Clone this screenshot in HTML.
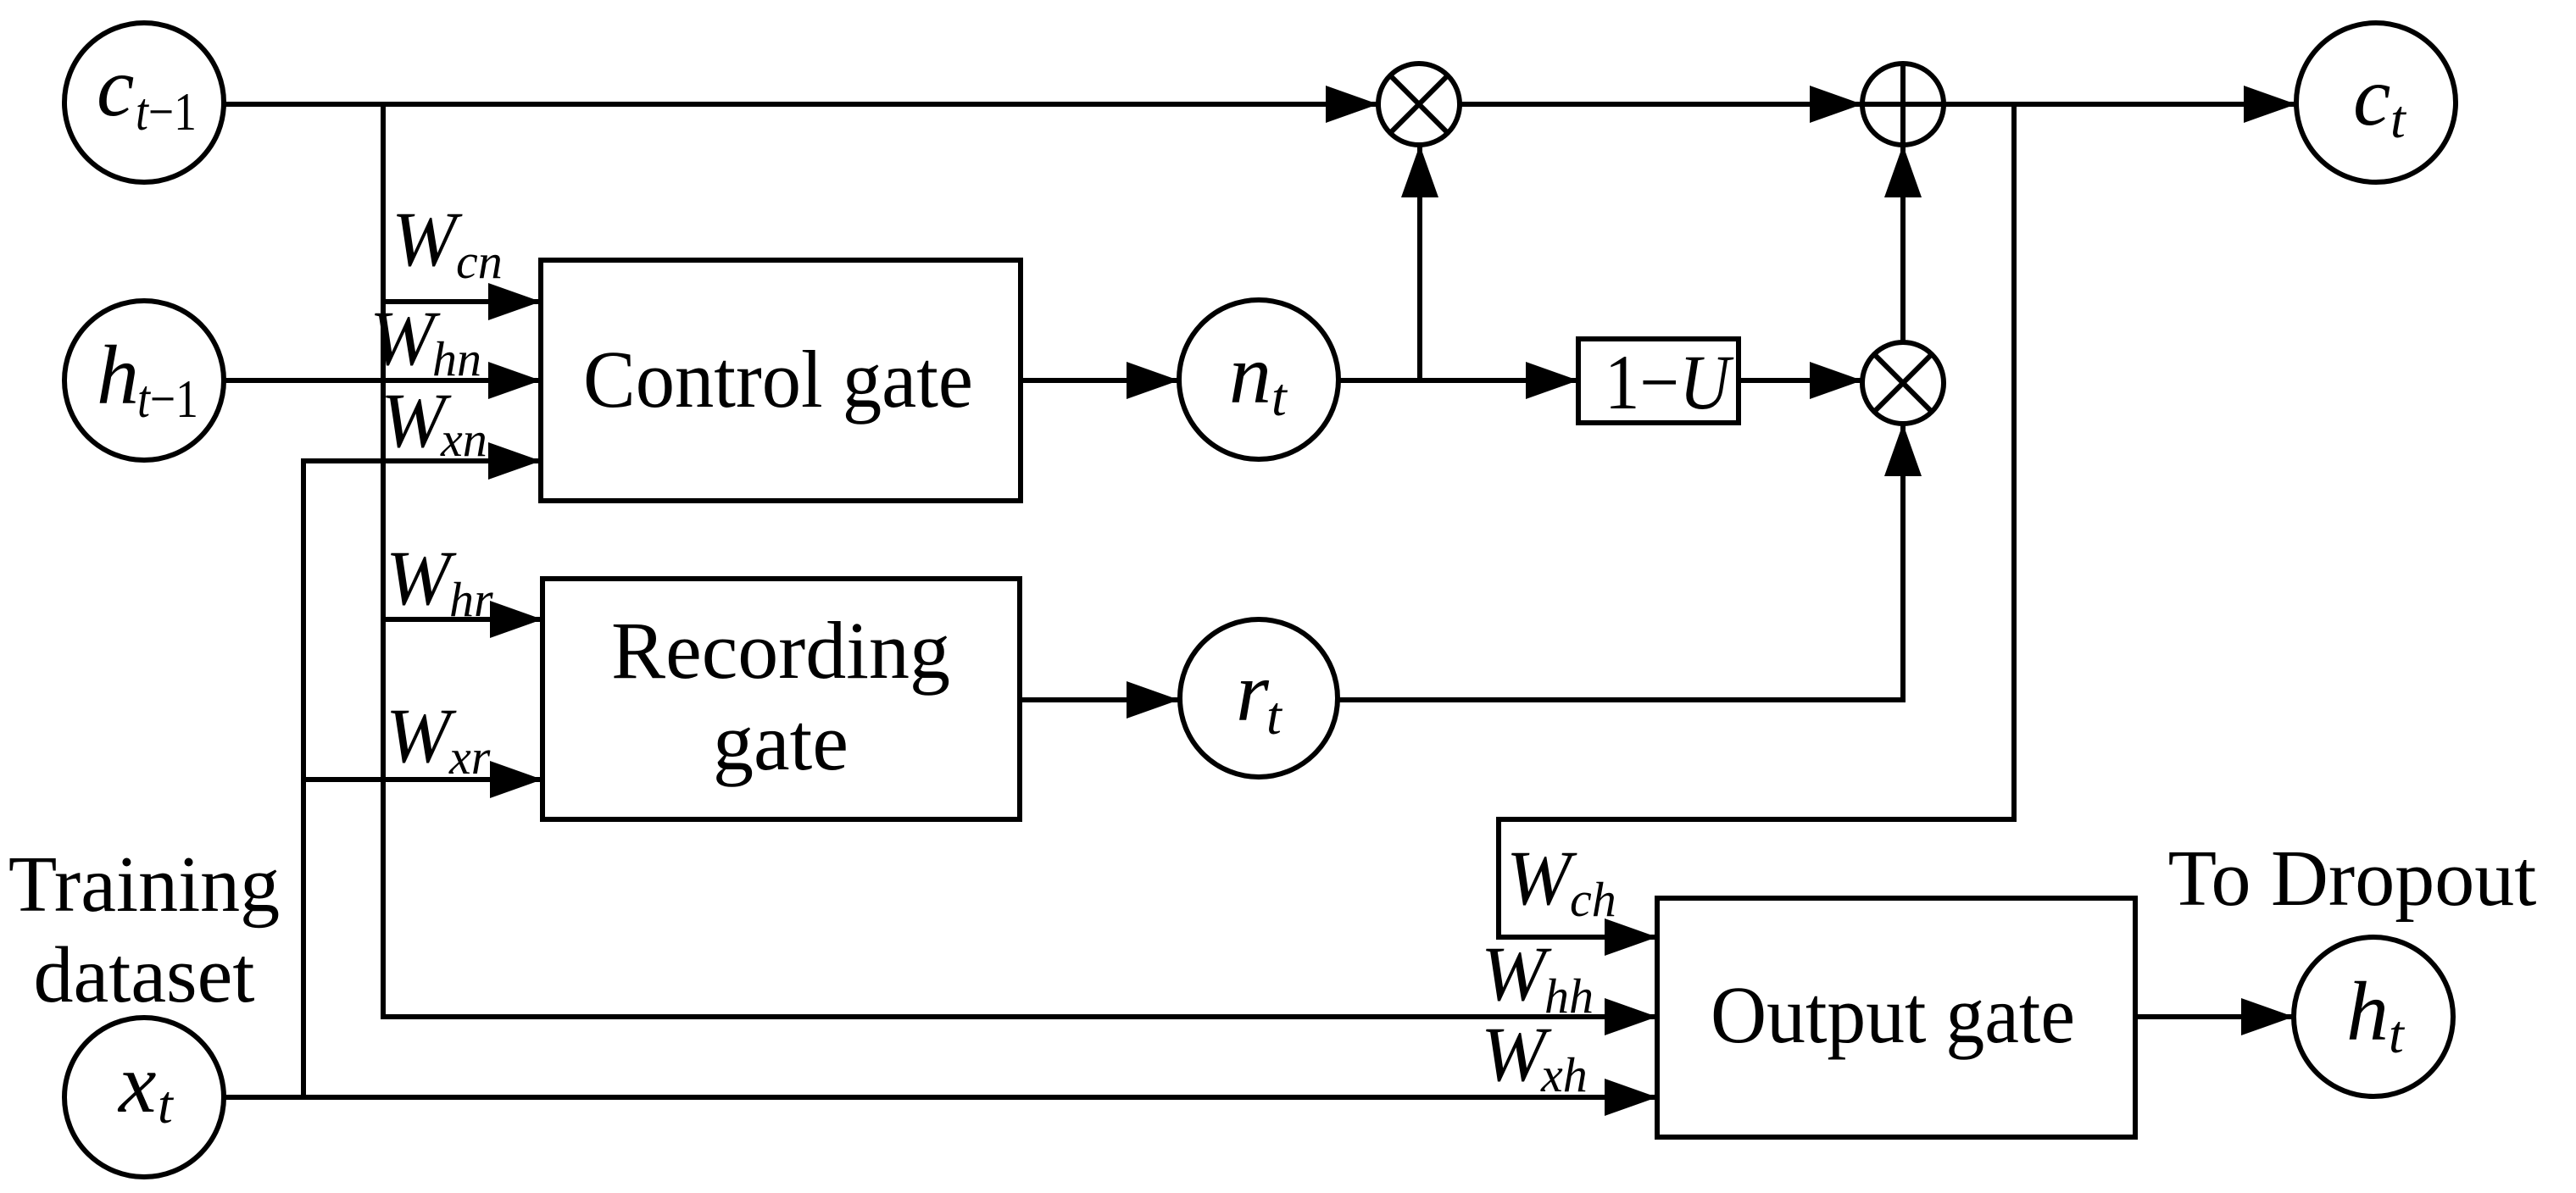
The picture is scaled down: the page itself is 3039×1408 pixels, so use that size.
<!DOCTYPE html>
<html><head><meta charset="utf-8"><style>
html,body{margin:0;padding:0;background:#fff;}
svg{display:block;}
text{font-family:"Liberation Serif",serif;fill:#000;}
.i{font-style:italic;}
</style></head><body>
<svg width="3039" height="1408" viewBox="0 0 3039 1408" xmlns="http://www.w3.org/2000/svg">
<defs>
<marker id="a" markerUnits="userSpaceOnUse" markerWidth="64" markerHeight="46" refX="62" refY="22" orient="auto">
<polygon points="0,0 62,22 0,44" fill="#000"/></marker>
</defs>
<g stroke="#000" stroke-width="6" fill="none">
<circle cx="170" cy="121" r="94"/>
<circle cx="170" cy="449" r="94"/>
<circle cx="170" cy="1295" r="94"/>
<circle cx="1485" cy="448" r="94"/>
<circle cx="1485" cy="824" r="93"/>
<circle cx="2803" cy="121" r="94"/>
<circle cx="2800" cy="1200" r="94"/>
<circle cx="1674" cy="123" r="48"/>
<line x1="1640" y1="89" x2="1708" y2="157"/><line x1="1708" y1="89" x2="1640" y2="157"/>
<circle cx="2245" cy="123" r="48"/>
<line x1="2197" y1="123" x2="2293" y2="123"/><line x1="2245" y1="75" x2="2245" y2="171"/>
<circle cx="2245" cy="452" r="48"/>
<line x1="2211" y1="418" x2="2279" y2="486"/><line x1="2279" y1="418" x2="2211" y2="486"/>
<rect x="638" y="307" width="566" height="284"/>
<rect x="640" y="683" width="563" height="284"/>
<rect x="1955" y="1060" width="564" height="282"/>
<rect x="1862" y="400" width="189" height="99"/>
<path d="M264,123 H1626" marker-end="url(#a)"/>
<path d="M1722,123 H2197" marker-end="url(#a)"/>
<path d="M2293,123 H2709" marker-end="url(#a)"/>
<path d="M452,123 V356 H638" marker-end="url(#a)"/>
<path d="M264,449 H638" marker-end="url(#a)"/>
<path d="M358,1295 V544 H638" marker-end="url(#a)"/>
<path d="M452,356 V1200 H1955" marker-end="url(#a)"/>
<path d="M452,731 H640" marker-end="url(#a)"/>
<path d="M358,920 H640" marker-end="url(#a)"/>
<path d="M264,1295 H1955" marker-end="url(#a)"/>
<path d="M1204,449 H1391" marker-end="url(#a)"/>
<path d="M1203,826 H1391" marker-end="url(#a)"/>
<path d="M1579,449 H1862" marker-end="url(#a)"/>
<path d="M1675,449 V171" marker-end="url(#a)"/>
<path d="M2051,449 H2197" marker-end="url(#a)"/>
<path d="M2245,404 V171" marker-end="url(#a)"/>
<path d="M1578,826 H2245 V500" marker-end="url(#a)"/>
<path d="M2376,123 V967 H1768 V1106 H1955" marker-end="url(#a)"/>
<path d="M2519,1200 H2706" marker-end="url(#a)"/>
</g>
<text class="i" x="114" y="136" font-size="100">c</text><text x="160" y="153" font-size="64" textLength="72" lengthAdjust="spacingAndGlyphs"><tspan class="i">t</tspan>−1</text>
<text class="i" x="114" y="476" font-size="100">h</text><text x="162" y="492" font-size="64" textLength="72" lengthAdjust="spacingAndGlyphs"><tspan class="i">t</tspan>−1</text>
<text class="i" x="140" y="1312" font-size="100">x</text><text class="i" x="186" y="1325" font-size="64">t</text>
<text class="i" x="1450" y="475" font-size="100">n</text><text class="i" x="1500" y="490" font-size="64">t</text>
<text class="i" x="1458" y="850" font-size="100">r</text><text class="i" x="1494" y="866" font-size="64">t</text>
<text class="i" x="2776" y="147" font-size="100">c</text><text class="i" x="2820" y="162" font-size="64">t</text>
<text class="i" x="2768" y="1227" font-size="100">h</text><text class="i" x="2818" y="1242" font-size="64">t</text>
<text x="1893" y="482" font-size="92" textLength="148" lengthAdjust="spacingAndGlyphs">1−<tspan class="i">U</tspan></text>
<text x="918" y="480" font-size="96" text-anchor="middle" textLength="460" lengthAdjust="spacingAndGlyphs">Control gate</text>
<text x="921" y="800" font-size="96" text-anchor="middle">Recording</text>
<text x="921" y="908" font-size="96" text-anchor="middle">gate</text>
<text x="2233" y="1230" font-size="96" text-anchor="middle" textLength="430" lengthAdjust="spacingAndGlyphs">Output gate</text>
<text x="170" y="1075" font-size="94" text-anchor="middle">Training</text>
<text x="170" y="1182" font-size="94" text-anchor="middle">dataset</text>
<text x="2775" y="1068" font-size="94" text-anchor="middle">To Dropout</text>
<text class="i" x="462" y="313" font-size="92">W</text><text class="i" x="538" y="328" font-size="58">cn</text>
<text class="i" x="436" y="430" font-size="92">W</text><text class="i" x="510" y="443" font-size="58">hn</text>
<text class="i" x="449" y="527" font-size="92">W</text><text class="i" x="520" y="538" font-size="58">xn</text>
<text class="i" x="455" y="713" font-size="92">W</text><text class="i" x="530" y="727" font-size="58">hr</text>
<text class="i" x="455" y="899" font-size="92">W</text><text class="i" x="530" y="913" font-size="58">xr</text>
<text class="i" x="1777" y="1067" font-size="92">W</text><text class="i" x="1852" y="1081" font-size="58">ch</text>
<text class="i" x="1747" y="1180" font-size="92">W</text><text class="i" x="1822" y="1195" font-size="58">hh</text>
<text class="i" x="1747" y="1275" font-size="92">W</text><text class="i" x="1818" y="1288" font-size="58">xh</text>
</svg>
</body></html>
